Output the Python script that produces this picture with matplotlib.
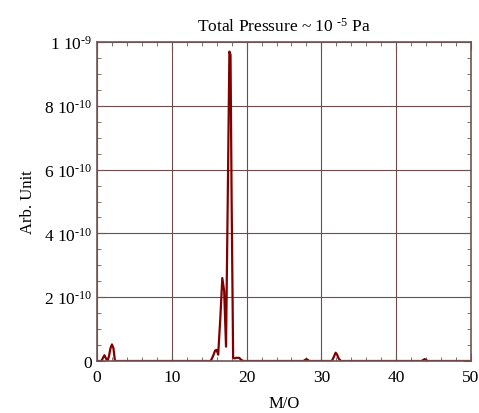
import matplotlib
matplotlib.use("Agg")
import matplotlib.pyplot as plt
from matplotlib.ticker import MultipleLocator, FuncFormatter

plt.rcParams["font.family"] = "Liberation Serif"
plt.rcParams["mathtext.fontset"] = "custom"
plt.rcParams["mathtext.rm"] = "Liberation Serif"
plt.rcParams["mathtext.it"] = "Liberation Serif:italic"

# mass spectrum (M/O vs intensity, arb. unit)
mass = [0.0, 0.6, 0.8, 1.0, 1.2, 1.4, 1.6, 1.8, 2.0, 2.2, 2.4, 2.6,
        15.2, 15.5, 15.8, 16.0, 16.2, 16.5, 16.75, 17.0, 17.25, 17.5, 17.7,
        17.85, 18.0, 18.2, 18.4, 18.6, 19.0, 19.3, 19.6, 20.0,
        27.6, 28.0, 28.4, 31.4, 31.7, 31.9, 32.1, 32.3, 32.6,
        43.4, 43.8, 44.2, 50.0]
intensity = [0.0, 0.0, 1.0e-11, 1.8e-11, 8e-12, 0.0, 1.5e-11, 4.0e-11, 5.2e-11, 4.0e-11, 0.0, 0.0,
             0.0, 1.5e-11, 3.3e-11, 3.5e-11, 2.0e-11, 1.4e-10, 2.6e-10, 2.2e-10, 4.5e-11, 5.5e-10, 9.7e-10,
             9.6e-10, 5.0e-10, 1.0e-11, 8e-12, 1.0e-11, 1.0e-11, 3e-12, 0.0, 0.0,
             0.0, 6e-12, 0.0, 0.0, 1.5e-11, 2.6e-11, 2.0e-11, 8e-12, 0.0,
             0.0, 6e-12, 0.0, 0.0]

fig = plt.figure(figsize=(4.79, 4.14), dpi=100)
ax = fig.add_axes([0.2025, 0.1256, 0.7808, 0.7705])

ax.plot(mass, intensity, color="#800000", lw=1.6)

ax.set_xlim(0, 50)
ax.set_ylim(0, 1e-9)
ax.xaxis.set_major_locator(MultipleLocator(10))
ax.xaxis.set_minor_locator(MultipleLocator(2))
ax.yaxis.set_major_locator(MultipleLocator(2e-10))
ax.yaxis.set_minor_locator(MultipleLocator(5e-11))


def ylab(v, pos):
    if abs(v) < 1e-15:
        return "0"
    if abs(v - 1e-9) < 1e-15:
        return r"1 10$^{\text{-9}}$"
    return r"%d 10$^{\text{-10}}$" % round(v / 1e-10)


ax.yaxis.set_major_formatter(FuncFormatter(ylab))
ax.xaxis.get_offset_text().set_visible(False)
ax.yaxis.get_offset_text().set_visible(False)

edge = "#6e5656"
for s in ax.spines.values():
    s.set_color(edge)
    s.set_linewidth(1.2)
ax.tick_params(which="both", direction="in", top=True, right=True,
               color=edge, labelsize=12.5)
ax.tick_params(which="major", length=6)
ax.tick_params(which="minor", length=3)
ax.tick_params(axis="x", pad=6)
ax.grid(True, which="major", color="#6e4a4a", lw=0.8)

ax.set_title(r"Total Pressure ~ 10 $^{\text{-5}}$ Pa", fontsize=12.5, pad=8)
ax.set_xlabel("M/O", fontsize=12, labelpad=7)
ax.set_ylabel("Arb. Unit", fontsize=12, labelpad=6)

fig.savefig("out.png", dpi=100)
